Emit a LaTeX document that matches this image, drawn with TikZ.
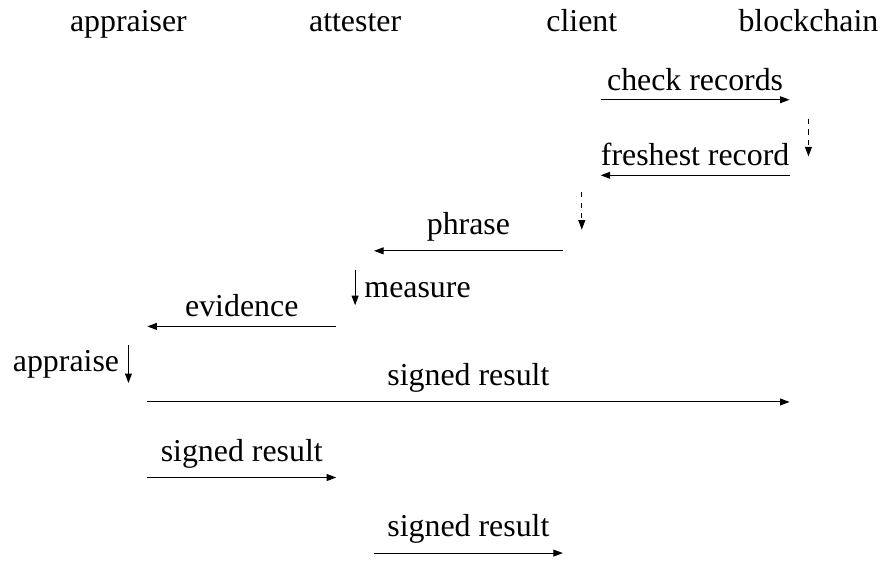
\documentclass[tikz,border=0pt]{standalone}
\usepackage{fontspec}
\setmainfont{Liberation Serif}
\usetikzlibrary{arrows.meta}

\begin{document}
\begin{tikzpicture}[font=\fontsize{12pt}{14pt}\selectfont,
        msg/.style={-{Triangle[length=3.6pt, width=2.6pt]}},
        pause/.style={-{Triangle[length=3.6pt, width=2.6pt]}, dash pattern=on 2pt off 2pt}]
            \useasboundingbox (-1.7,1.32) rectangle (10,-6.1);
            % heads of the lifelines
            \foreach \name/\x/\txt in {ap/0/appraiser, at/3/attester, cl/6/client, bc/9/blockchain}
                \node[anchor=base] (\name) at (\x,0.9) {\txt};
            % one point per lifeline and row
            \foreach \name/\x in {ap/0, at/3, cl/6, bc/9}
                \foreach \r in {1,...,7}
                    \coordinate (\name\r) at (\x,1-\r);
            \draw[msg] ([xshift=2.5mm]cl1) -- ([xshift=-2.5mm]bc1) node[midway, above] {check records};
            \draw[pause] ([yshift=-2.5mm]bc1) -- ([yshift=-7.5mm]bc1);
            \draw[msg] ([xshift=-2.5mm]bc2) -- ([xshift=2.5mm]cl2) node[midway, above] {freshest record};
            \draw[pause] ([yshift=-2.2mm]cl2) -- ([yshift=-7.2mm]cl2);
            \draw[msg] ([xshift=-2.5mm]cl3) -- ([xshift=2.5mm]at3) node[midway, above] {phrase};
            \draw[msg] ([yshift=-2.5mm]at3) -- ([yshift=-7.2mm]at3) node[midway, right, yshift=-1pt] {measure};
            \draw[msg] ([xshift=-2.5mm]at4) -- ([xshift=2.5mm]ap4) node[midway, above] {evidence};
            \draw[msg] ([yshift=-2.5mm]ap4) -- ([yshift=-7.5mm]ap4) node[midway, left] {appraise};
            \draw[msg] ([xshift=2.5mm]ap5) -- ([xshift=-2.5mm]bc5) node[midway, above] {signed result};
            \draw[msg] ([xshift=2.5mm]ap6) -- ([xshift=-2.5mm]at6) node[midway, above] {signed result};
            \draw[msg] ([xshift=2.5mm]at7) -- ([xshift=-2.5mm]cl7) node[midway, above] {signed result};
\end{tikzpicture}
\end{document}
